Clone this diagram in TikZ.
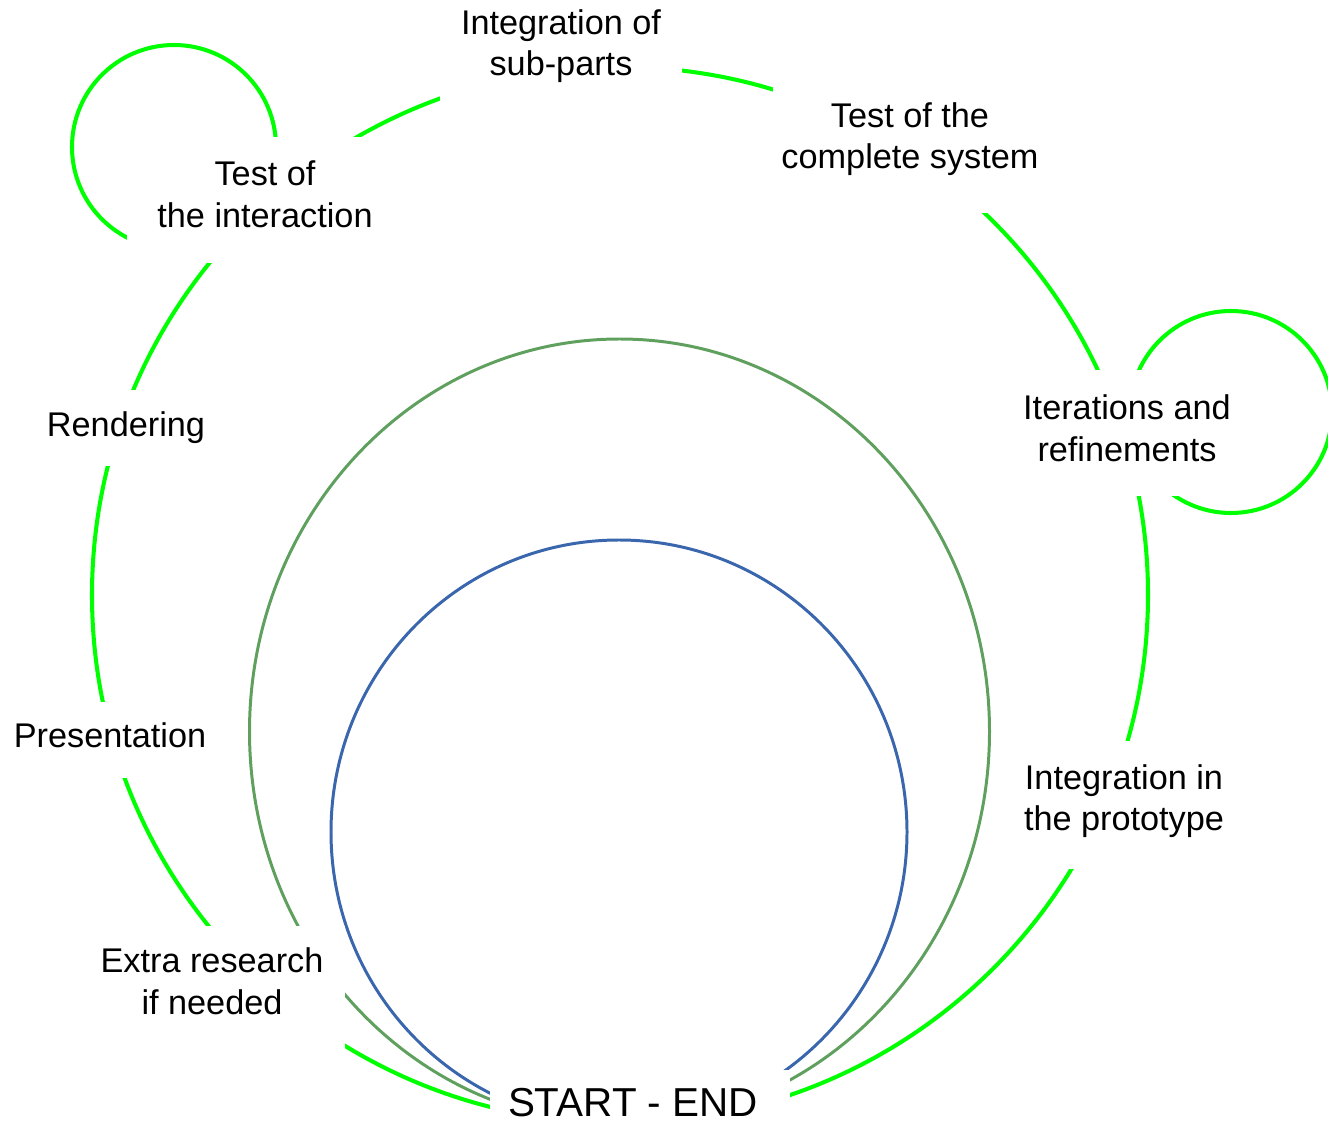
\documentclass[tikz,border=0pt]{standalone}
\usepackage{fontspec}
\setmainfont{Liberation Sans}
\definecolor{lime}{RGB}{0,255,0}
\definecolor{sage}{RGB}{95,160,95}
\definecolor{steel}{RGB}{58,102,173}
\newcommand{\padbelow}[1]{\rule[-#1]{0pt}{#1}}
\tikzset{
  lbl/.style={fill=white, inner sep=0pt, align=center,
    font=\fontsize{19.5}{23.6}\selectfont},
  loopline/.style={draw=lime, line width=2.3pt},
}
\begin{document}
\begin{tikzpicture}[x=0.02cm, y=0.02cm]
        \useasboundingbox (0,0) rectangle (1328,-1124);
        % cycle lines
        \draw[loopline] (620,-595) circle[radius=528];
        \draw[sage, line width=1.7pt] (619.5,-731.5) ellipse[x radius=370, y radius=392.5];
        \draw[steel, line width=1.7pt] (619,-832) ellipse[x radius=288, y radius=292];
        \draw[loopline] (174,-147) circle[radius=102];
        \draw[loopline] (1231,-412) circle[radius=101];

        % labels on the cycle
        \node[lbl, minimum width=4.86cm, minimum height=2.32cm] (n1) at (561,-46) {Integration of\\sub-parts};
        \node[lbl, minimum width=5.48cm, minimum height=2.96cm] (n2) at (910,-139) {Test of the\\complete system};
        \node[lbl, minimum width=5.52cm, minimum height=2.52cm] (n3) at (265,-200) {Test of\\the interaction\padbelow{0.24cm}};
        \node[lbl, minimum width=4.6cm, minimum height=2.52cm] (n4) at (1127,-433) {Iterations and\\refinements\padbelow{0.2cm}};
        \node[lbl, minimum width=4cm, minimum height=1.52cm] (n5) at (126,-428) {Rendering};
        \node[lbl, minimum width=4.6cm, minimum height=1.52cm] (n6) at (110,-740) {Presentation\padbelow{0.2cm}};
        \node[lbl, minimum width=5.32cm, minimum height=2.56cm] (n7) at (212,-990) {Extra research\\if needed\padbelow{0.36cm}};
        \node[lbl, minimum width=4.6cm, minimum height=2.56cm] (n8) at (1124,-805) {Integration in\\the prototype\padbelow{0.3cm}};
        \node[lbl, minimum width=6cm, minimum height=1.08cm,
              font=\fontsize{23}{27.6}\selectfont] (n0) at (640,-1097) {\rule{0pt}{0.79cm}START - END\rule{0.28cm}{0pt}};
\end{tikzpicture}
\end{document}
